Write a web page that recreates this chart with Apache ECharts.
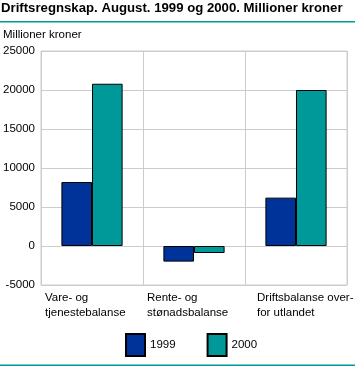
<!DOCTYPE html>
<html><head><meta charset="utf-8">
<script src="https://cdn.jsdelivr.net/npm/echarts@6/dist/echarts.min.js"></script>
<style>html,body{margin:0;padding:0;background:#fff}#c{width:355px;height:366px}</style>
</head><body><div id="c"></div>
<script>
var categories = ['Vare- og\ntjenestebalanse', 'Rente- og\nstønadsbalanse', 'Driftsbalanse over-\nfor utlandet'];
var series1999 = [8200, -2000, 6200];
var series2000 = [20800, -900, 20000];
var seriesNames = ['1999', '2000'];
var yTicks = [-5000, 0, 5000, 10000, 15000, 20000, 25000];

var FONT = '"Liberation Sans", Arial, sans-serif';
var chart = echarts.init(document.getElementById('c'), null, {renderer: 'canvas'});
chart.setOption({
  animation: false,
  backgroundColor: '#fff',
  textStyle: {fontFamily: FONT, color: '#000'},
  title: {
    text: 'Driftsregnskap. August. 1999 og 2000. Millioner kroner',
    left: 1, top: 2, padding: 0,
    textStyle: {fontFamily: FONT, fontSize: 13.2, fontWeight: 'bold', color: '#000'}
  },
  graphic: [
    {type: 'rect', shape: {x: 0, y: 21, width: 355, height: 1.5}, style: {fill: '#009999'}},
    {type: 'rect', shape: {x: 0, y: 364.5, width: 355, height: 1.5}, style: {fill: '#009999'}},
    {type: 'text', left: 3, top: 29, style: {text: 'Millioner kroner', font: '11.5px ' + FONT, fill: '#000'}}
  ],
  legend: {
    data: seriesNames,
    left: 125, top: 333, padding: 0,
    itemWidth: 19, itemHeight: 22, itemGap: 31,
    icon: 'rect',
    textStyle: {fontFamily: FONT, fontSize: 11.5, color: '#000', padding: [4, 0, 0, 0]}
  },
  grid: {left: 41, right: 8, top: 51, bottom: 81, show: true, borderColor: '#cccccc', borderWidth: 1, outerBoundsMode: 'none', containLabel: false},
  xAxis: {
    type: 'category',
    data: categories,
    axisLine: {show: false},
    axisTick: {show: false},
    splitLine: {show: true, lineStyle: {color: '#cccccc', width: 1}},
    axisLabel: {
      interval: 0,
      margin: 5,
      formatter: function (v, i) {
        var st = i === 2 ? 'c' : 'a';
        return v.split('\n').map(function (s) { return '{' + st + '|' + s + '}'; }).join('\n');
      },
      rich: {
        a: {width: 94, align: 'left', fontSize: 11.5, fontFamily: FONT, color: '#000', lineHeight: 15},
        c: {width: 86, padding: [0, 0, 0, 8], align: 'left', fontSize: 11.5, fontFamily: FONT, color: '#000', lineHeight: 15}
      }
    }
  },
  yAxis: {
    type: 'value',
    min: yTicks[0], max: yTicks[yTicks.length - 1], interval: 5000,
    axisLine: {show: false},
    axisTick: {show: false},
    splitLine: {show: true, lineStyle: {color: '#cccccc', width: 1}},
    axisLabel: {margin: 6, fontSize: 11.5, fontFamily: FONT, color: '#000', formatter: function (v) { return String(v); }}
  },
  series: [
    {name: seriesNames[0], type: 'bar', data: series1999, barGap: '0%', barCategoryGap: '40%',
     itemStyle: {color: '#003399', borderColor: '#000', borderWidth: 1}},
    {name: seriesNames[1], type: 'bar', data: series2000, barGap: '0%', barCategoryGap: '40%',
     itemStyle: {color: '#009999', borderColor: '#000', borderWidth: 1}}
  ]
});
</script>
</body></html>
